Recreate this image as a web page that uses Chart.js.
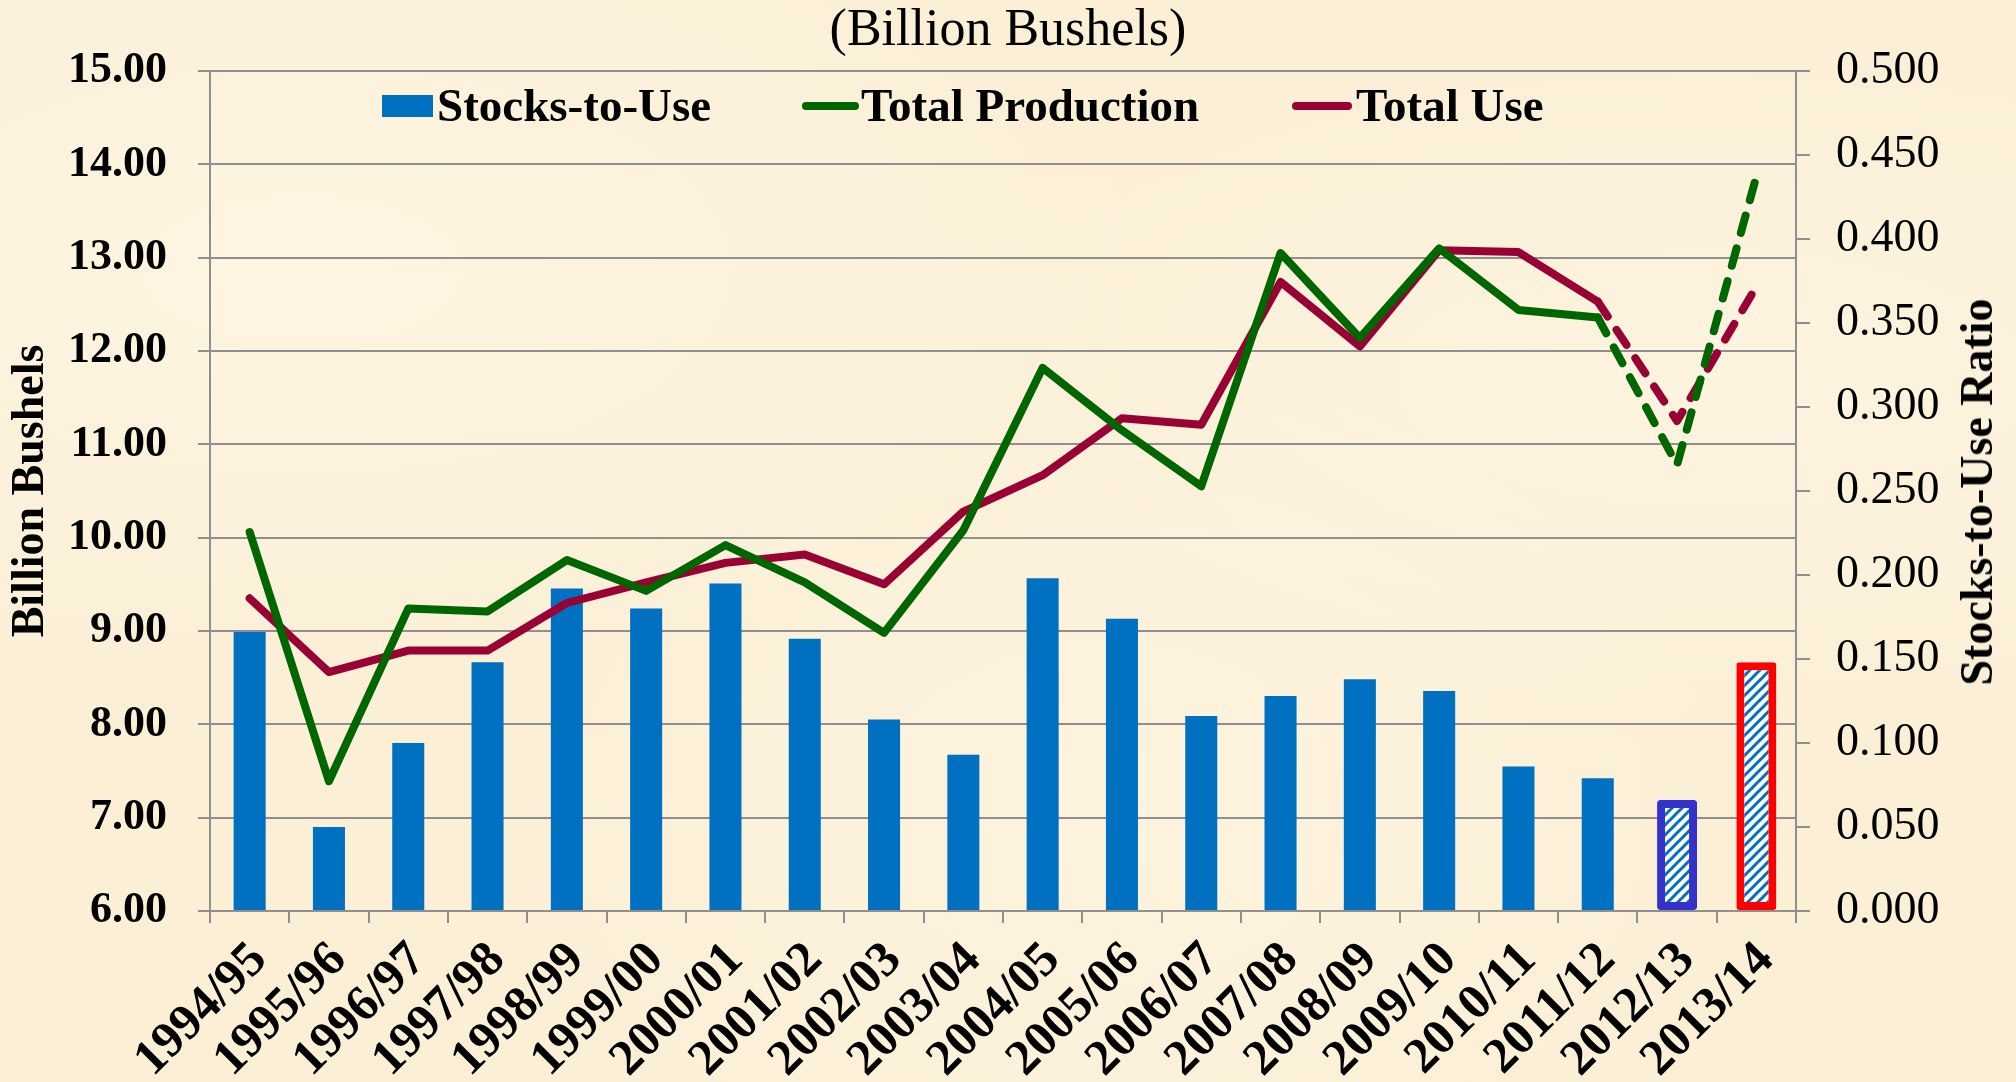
<!DOCTYPE html>
<html>
<head>
<meta charset="utf-8">
<script src="https://cdn.jsdelivr.net/npm/chart.js@4/dist/chart.umd.min.js"></script>
<style>
  html, body { margin: 0; padding: 0; }
  body { width: 2016px; height: 1082px; overflow: hidden;
    background: #FBEFD6;
    background-image:
      radial-gradient(ellipse at 15% 25%, rgba(255,248,232,0.7), rgba(255,248,232,0) 35%),
      radial-gradient(ellipse at 55% 75%, rgba(255,246,228,0.6), rgba(255,246,228,0) 40%),
      radial-gradient(ellipse at 85% 35%, rgba(255,247,230,0.6), rgba(255,247,230,0) 35%);
  }
  #wrap { position: absolute; left: 0; top: 0; width: 2016px; height: 1082px; }
  .lg { position: absolute; font-family: 'Liberation Serif', 'Times New Roman', serif; font-weight: bold;
        font-size: 47px; line-height: 46px; color: #000; white-space: nowrap; }
  .sw { position: absolute; }
  #rtitle { position: absolute; left: 1977px; top: 492px; transform: translate(-50%, -50%) rotate(-90deg);
        font-family: 'Liberation Serif', 'Times New Roman', serif; font-weight: bold; font-size: 46px;
        line-height: 46px; color: #000; white-space: nowrap; }
</style>
</head>
<body>
<div id="wrap"><canvas id="c"></canvas></div>
<div class="sw" style="left:382px;top:95px;width:51px;height:22px;background:#0070C0"></div>
<div class="lg" style="left:437px;top:82px">Stocks-to-Use</div>
<div class="sw" style="left:802px;top:102px;width:57px;height:8px;border-radius:4px;background:#006600"></div>
<div class="lg" style="left:861px;top:82px">Total Production</div>
<div class="sw" style="left:1292px;top:102px;width:60px;height:8px;border-radius:4px;background:#990033"></div>
<div class="lg" style="left:1356px;top:82px">Total Use</div>
<div id="rtitle">Stocks-to-Use Ratio</div>
<script>
// ---- data ----
const categories = ['1994/95','1995/96','1996/97','1997/98','1998/99','1999/00','2000/01','2001/02','2002/03','2003/04',
                    '2004/05','2005/06','2006/07','2007/08','2008/09','2009/10','2010/11','2011/12','2012/13','2013/14'];
const stocksToUse = [0.166,0.050,0.100,0.148,0.192,0.180,0.195,0.162,0.114,0.093,
                     0.198,0.174,0.116,0.128,0.138,0.131,0.086,0.079,0.066,0.148];
const totalProduction = [10.06,7.39,9.24,9.21,9.76,9.43,9.92,9.52,8.98,10.08,
                         11.82,11.15,10.55,13.05,12.14,13.10,12.44,12.36,10.78,13.87];
const totalUse = [9.35,8.56,8.79,8.79,9.30,9.52,9.73,9.82,9.50,10.28,
                  10.67,11.28,11.21,12.74,12.05,13.08,13.06,12.53,11.25,12.69];
const projectedYears = ['2012/13','2013/14'];
const leftTicks = [6,7,8,9,10,11,12,13,14,15];
const rightTicks = [0,0.05,0.1,0.15,0.2,0.25,0.3,0.35,0.4,0.45,0.5];

const FONT = "'Liberation Serif', 'Times New Roman', serif";
const GRID = '#8f8f8f';
const isProj = i => projectedYears.includes(categories[i]);

function hatch() {
  const c = document.createElement('canvas');
  c.width = 10; c.height = 10;
  const g = c.getContext('2d');
  g.fillStyle = '#ffffff'; g.fillRect(0, 0, 10, 10);
  g.strokeStyle = '#0070C0'; g.lineWidth = 3;
  g.beginPath();
  g.moveTo(-2, 12); g.lineTo(12, -2);
  g.moveTo(-7, 7); g.lineTo(7, -7);
  g.moveTo(3, 17); g.lineTo(17, 3);
  g.stroke();
  return g.createPattern(c, 'repeat');
}
const pat = hatch();
const projBorder = {'2012/13': '#3333CC', '2013/14': '#FF0000'};

const dashSeg = ctx => (isProj(ctx.p1DataIndex) ? [18, 16] : undefined);

new Chart(document.getElementById('c'), {
  data: {
    labels: categories,
    datasets: [
      { type: 'line', label: 'Total Production', data: totalProduction, yAxisID: 'y',
        borderColor: '#006600', backgroundColor: '#006600', borderWidth: 8, pointRadius: 0,
        borderCapStyle: 'round', borderJoinStyle: 'round', tension: 0, order: 0,
        segment: { borderDash: dashSeg } },
      { type: 'line', label: 'Total Use', data: totalUse, yAxisID: 'y',
        borderColor: '#990033', backgroundColor: '#990033', borderWidth: 8, pointRadius: 0,
        borderCapStyle: 'round', borderJoinStyle: 'round', tension: 0, order: 0,
        segment: { borderDash: dashSeg } },
      { type: 'bar', label: 'Stocks-to-Use', data: stocksToUse.map((v, i) => isProj(i) ? null : v),
        yAxisID: 'y2', backgroundColor: '#0070C0', borderWidth: 0,
        barPercentage: 0.404, categoryPercentage: 1, grouped: false, order: 2 },
      { type: 'bar', label: 'Stocks-to-Use (projected)', data: stocksToUse.map((v, i) => isProj(i) ? v : null),
        yAxisID: 'y2', backgroundColor: pat,
        borderColor: categories.map(c => projBorder[c] || '#0070C0'),
        borderWidth: 8, borderRadius: 3, borderSkipped: false,
        barPercentage: 0.504, categoryPercentage: 1, grouped: false, order: 1 }
    ]
  },
  options: {
    responsive: true, maintainAspectRatio: false, animation: false,
    layout: { padding: 0 },
    plugins: {
      legend: { display: false },
      tooltip: { enabled: false },
      title: { display: true, text: '(Billion Bushels)', color: '#000',
               font: { family: FONT, size: 52, weight: 'normal', lineHeight: 1.0 },
               padding: { top: 5, bottom: 14 } }
    },
    scales: {
      x: {
        type: 'category', offset: true,
        grid: { drawOnChartArea: false, drawTicks: true, tickLength: 12, color: GRID, lineWidth: 2, offset: true },
        border: { color: GRID, width: 2 },
        ticks: { autoSkip: false, minRotation: 45, maxRotation: 45, color: '#000', padding: 8, labelOffset: 10,
                 font: { family: FONT, size: 50, weight: 'bold' } },
        afterFit: s => { s.height = 171; }
      },
      y: {
        position: 'left', min: 6, max: 15,
        afterBuildTicks: s => { s.ticks = leftTicks.map(v => ({ value: v })); },
        ticks: { color: '#000', padding: 31, callback: v => Number(v).toFixed(2),
                 font: { family: FONT, size: 44, weight: 'bold' } },
        grid: { color: GRID, lineWidth: 2, tickLength: 12 },
        border: { color: GRID, width: 2 },
        title: { display: true, text: 'Billion Bushels', color: '#000',
                 font: { family: FONT, size: 46, weight: 'bold', lineHeight: 1.2 }, padding: { top: 4, bottom: 0 } },
        afterFit: s => { s.width = 210; }
      },
      y2: {
        position: 'right', min: 0, max: 0.5,
        afterBuildTicks: s => { s.ticks = rightTicks.map(v => ({ value: v })); },
        ticks: { color: '#000', padding: 26, callback: v => Number(v).toFixed(3),
                 font: { family: FONT, size: 46, weight: 'normal' } },
        grid: { drawOnChartArea: false, color: GRID, lineWidth: 2, tickLength: 14 },
        border: { color: GRID, width: 2 },
        title: { display: false, text: 'Stocks-to-Use Ratio' },
        afterFit: s => { s.width = 220; }
      }
    }
  }
});
</script>
</body>
</html>
